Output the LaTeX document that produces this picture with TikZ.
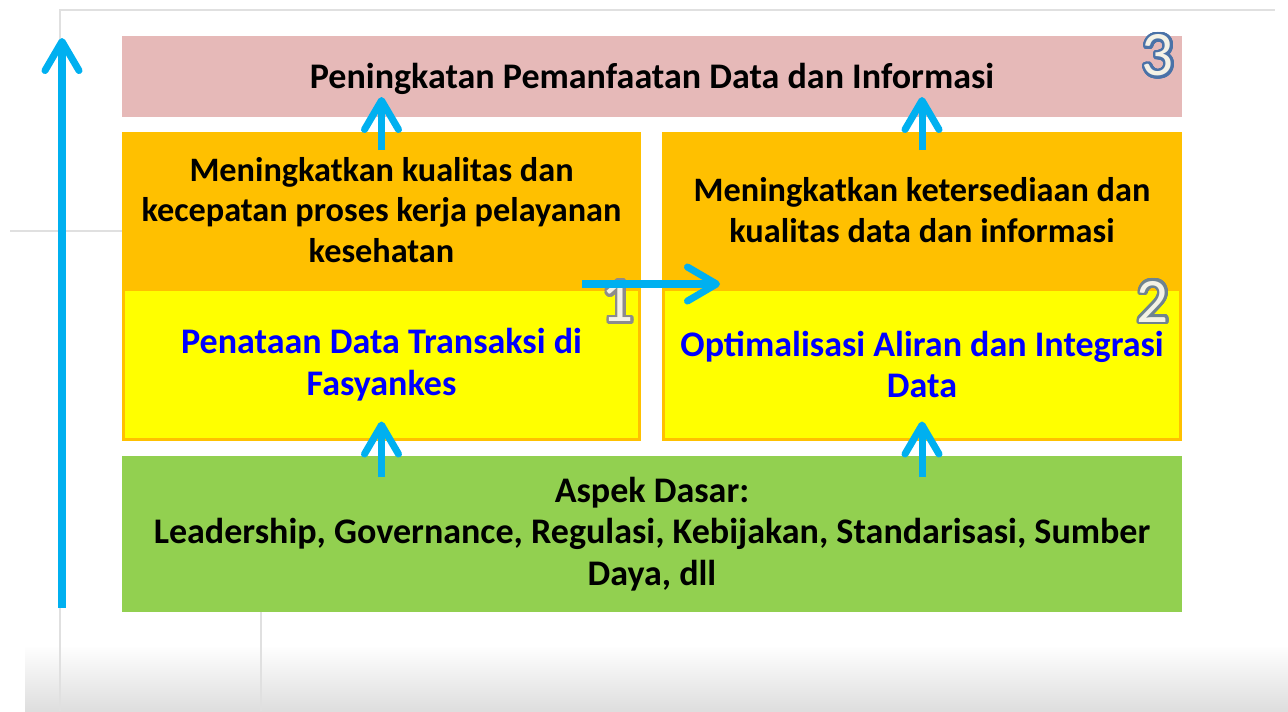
\documentclass[tikz,border=0pt]{standalone}
\usepackage{fontspec}
\setmainfont{Carlito}
\usepackage{contour}
\usetikzlibrary{positioning}
\usetikzlibrary{arrows.meta}

\definecolor{infopink}{HTML}{E6B9B8}
\definecolor{kerjaorange}{HTML}{FFC000}
\definecolor{datayellow}{HTML}{FFFF00}
\definecolor{dasargreen}{HTML}{92D050}
\definecolor{arrowcyan}{HTML}{00B0F0}
\definecolor{bluetext}{HTML}{0000FF}
\definecolor{numfill}{HTML}{F4F2E6}
\definecolor{numedge}{HTML}{4A72A8}
\definecolor{numedgegray}{HTML}{6F8390}
\definecolor{numedgeone}{HTML}{8C8C8C}

\newcommand{\boxfont}{\fontsize{20.5}{23.8}\selectfont\bfseries}
\newcommand{\goalfont}{\fontsize{19.5}{23.2}\selectfont\bfseries}
\newcommand{\numfont}{\fontsize{36}{36}\selectfont}
\contourlength{1.6pt}
\contournumber{32}

\begin{document}
\begin{tikzpicture}[
  box/.style={rectangle, inner sep=0pt, outer sep=0pt, align=center, font=\boxfont},
  arr/.style={draw=arrowcyan, line width=4pt, -{Straight Barb[length=0.58cm,width=0.68cm,round]}},
  gridline/.style={draw=black!12, line width=1.2pt},
  num/.style={font=\numfont, inner sep=0pt}
]
\useasboundingbox (0,0) rectangle (25.76,-14.22);

% background of the slide
\shade[top color=white,bottom color=black!13] (0.5,-12.9) rectangle (25.76,-14.22);
\draw[gridline] (1.2,-14.22) -- (1.2,-0.2) -- (25.5,-0.2);
\draw[gridline] (0.2,-4.62) -- (2.44,-4.62);
\draw[gridline] (5.22,-12.24) -- (5.22,-14.22);

% boxes
\node[box,fill=infopink,minimum width=21.2cm,minimum height=1.62cm,text height=0.6cm] (info) at (13.04,-1.53)
  {Peningkatan Pemanfaatan Data dan Informasi};
\node[box,font=\goalfont,fill=kerjaorange,minimum width=10.38cm,minimum height=3.12cm] (kualitas) at (7.63,-4.2)
  {Meningkatkan kualitas dan\\kecepatan proses kerja pelayanan\\kesehatan};
\node[box,font=\goalfont,fill=kerjaorange,minimum width=10.4cm,minimum height=3.12cm] (ketersediaan) at (18.44,-4.2)
  {Meningkatkan ketersediaan dan\\kualitas data dan informasi};
\node[box,fill=datayellow,draw=kerjaorange,line width=0.06cm,text=bluetext,
  minimum width=10.32cm,minimum height=3.0cm,below=0.03cm of kualitas] (penataan)
  {Penataan Data Transaksi di\\Fasyankes};
\node[box,fill=datayellow,draw=kerjaorange,line width=0.06cm,text=bluetext,
  minimum width=10.34cm,minimum height=3.0cm,below=0.03cm of ketersediaan] (optimalisasi)
  {Optimalisasi Aliran dan Integrasi\\Data};
\node[box,fill=dasargreen,minimum width=21.2cm,minimum height=3.12cm] (dasar) at (13.04,-10.68)
  {Aspek Dasar:\\Leadership, Governance, Regulasi, Kebijakan, Standarisasi, Sumber\\Daya, dll};

% numbers
\node[num] (n3) at (23.16,-1.14) {\contour{numedge}{\textcolor{numfill}{3}}};
\node[num] (n2) at (23.06,-6.06) {\contour{numedgegray}{\textcolor{numfill}{2}}};
\node[num] (n1) at (12.36,-6.06) {\contour{numedgeone}{\textcolor{numfill}{1}}};

% arrows
\coordinate (axisbot) at (1.24,-12.16);
\coordinate (axistop) at (1.24,-0.76);
\draw[arr] (axisbot) -- (axistop);
\draw[arr] ([yshift=-0.42cm]dasar.north -| penataan) -- ([yshift=0.36cm]penataan.south);
\draw[arr] ([yshift=-0.42cm]dasar.north -| optimalisasi) -- ([yshift=0.36cm]optimalisasi.south);
\draw[arr] ([yshift=-0.36cm]kualitas.north) -- ([yshift=0.4cm]kualitas.north |- info.south);
\draw[arr] ([yshift=-0.36cm]ketersediaan.north) -- ([yshift=0.4cm]ketersediaan.north |- info.south);
\draw[arr] ([xshift=-1.18cm,yshift=0.08cm]kualitas.south east) -- ([xshift=1.16cm,yshift=0.08cm]ketersediaan.south west);

\end{tikzpicture}
\end{document}
